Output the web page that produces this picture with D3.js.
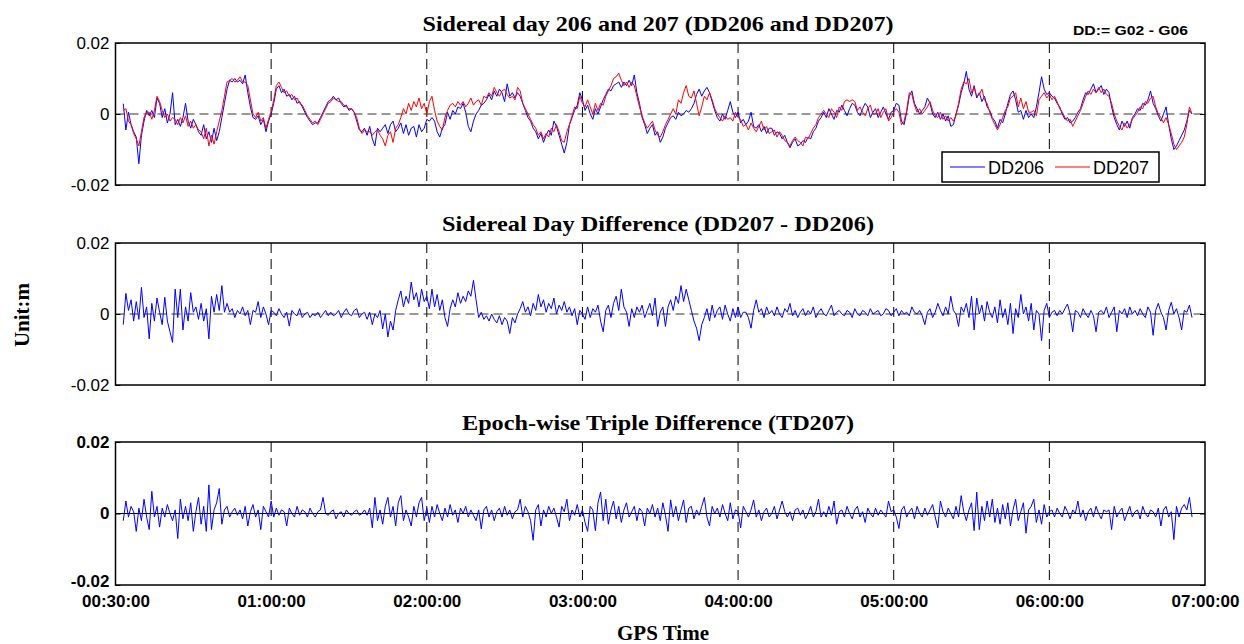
<!DOCTYPE html>
<html>
<head>
<meta charset="utf-8">
<script src="https://cdn.jsdelivr.net/npm/d3@7/dist/d3.min.js"></script>
<style>
  body { margin: 0; background: #fff; }
</style>
</head>
<body>
<svg id="chart" width="1244" height="644"></svg>
<script>
// time axis: one value per minute, first epoch ~3 min after the left edge
const startHour = 0.05, stepHour = 1 / 60;
const tickHours = [0, 1, 2, 3, 4, 5, 6, 7];
const tickLabels = ["00:30:00", "01:00:00", "02:00:00", "03:00:00", "04:00:00", "05:00:00", "06:00:00", "07:00:00"];
const yTicks = [-0.02, 0, 0.02];
const yTickLabels = ["-0.02", "0", "0.02"];

// values in mm
const dd206 = [
  2.9, -4.5, 0.5, -3, -5, -6.5, -14, -6, -2, 1,
  -0.5, 1, -1, 4.5, 3, -1, 1.5, -2.5, 0, 6,
  -3, -1.5, -3.5, -1, 3, -2, -4, -1.5, -3, -5,
  -6, -3, -7, -5, -8, -4, -7.5, -5, -1, 3,
  7, 9.5, 9, 10, 9, 9.5, 8.5, 11, 6, 2,
  -1, -1.5, -0.5, -3, -1.5, -5, -2, 0, 3, 7,
  8, 6, 7, 5, 5.5, 4, 5, 3, 3.5, 2,
  0.5, -1, -2, -3, -2.5, -2.5, -1, 0.5, 2, 3.5,
  4, 5, 4, 4.5, 3, 2, 2.5, 1, 1.5, 0.5,
  -2, -4.5, -5, -4, -6, -3.5, -7, -9, -4, -5,
  -4, -3, -5.5, -3, -2, -5, -4, -2.5, -5.5, -3,
  -6, -4, -3.5, -6.5, -3, -5, -4, -1.5, -2, -1,
  -2, -5, -6.5, -4, -3, 0.5, -1.5, 1, 0, 2,
  1.5, 3, 0.5, -3.5, -5, -2, 0, 1, 2.5, 3,
  4, 5.5, 4, 6.5, 5, 7, 6, 3.5, 8.5, 5,
  6, 4.5, 6, 5, 3, 1, -1, -2, -4, -5,
  -7, -5.5, -8, -6, -4.5, -6, -2, -3.5, -6, -8.5,
  -11, -8, -3, -1, 1, 2.5, 6, 4, 1, 2.5,
  0, -1.5, 1.5, 0, 2, 4, 5.5, 7, 6.5, 8,
  8.5, 9, 7.5, 9, 8, 9.5, 8, 11, 6, 3,
  -1, -3, -5.5, -4, -3, -6, -5, -8, -6.5, -4,
  -2.5, -1, -0.5, -1.5, 0.5, -0.5, 0, 1, 0.5, 1.5,
  3, 5.5, 7, 5, 6.5, 7.5, 6, 3.5, 1, -1,
  -2, 0, -1.5, 1, 3.5, 0.5, -1, 0.5, -2.5, -1.5,
  -3, -2, 0.5, -3.5, -4, -3, -5, -3.5, -5.5, -4,
  -4, -6, -5, -5.5, -7, -6, -8, -9.5, -8, -7,
  -9, -8.5, -7.5, -8, -6.5, -7, -5, -4, -2, -1,
  0.5, -1, 1.5, 0, -1.5, 1, 0.5, 2.5, 1, -0.5,
  1.5, 3, 2.5, 0.5, -0.5, 1.5, 3, 2, -1, 0.5,
  1.5, -1, 0.5, 2, 0, -1.5, 0.5, 1, 3, 2.5,
  -2, -3, 0.5, 5, 6.5, 3, 1.5, 0, 1, 2,
  4.5, 3, 0, -1, 0.5, -1.5, 0, -2, -0.5, -3.5,
  -3, 0, 2.5, 6, 8.5, 12, 7, 5, 8, 4.5,
  6, 3.5, 5, 2, 1, -1, -2, -4, -1.5, -2.5,
  0, 3, 5.5, 6.5, 4, 0.5, 1, -1.5, 1, -1,
  0, -1, 2, 6, 10.5, 7, 5.5, 6, 5, 4.5,
  3, 2, 0, -1.5, -1, -2.5, -2, -1, 0.5, 1.5,
  4, 6, 5.5, 7, 8.5, 6, 7, 8, 5.5, 7,
  6, 2, -1, -3, -4.5, -2, -3.5, -2, -4, -1,
  0, 1.5, 1, 3, 2.5, 4, 6.5, 3, 1.5, -0.5,
  -2, 0, 2, -3, -7, -10, -9, -7.5, -6, -4.5,
  -2, 1, 0
];

const dd207 = [
  1, 1.5, -2, -3, -5.5, -7, -9, -5, -1, 0.5,
  0.5, -1.5, 1, 5, 3.5, 1, -1, 0, -2, -1,
  -1.5, -3, -1, -2.5, -0.5, -3.5, -2, -4, -3, -4.5,
  -5, -7, -4, -9, -6, -8.5, -5, -2, 1, 5,
  9, 9.5, 10, 9, 9.5, 10.5, 9, 9, 8, 4,
  0, -1, 0.5, -2, -1, -4, -1.5, 0.5, 4, 8,
  9, 7.5, 6, 6.5, 5, 5.5, 4, 4.5, 3, 2.5,
  1, -0.5, -1.5, -2.5, -2, -3, -1.5, 0, 1.5, 3,
  3.5, 4.5, 4, 3.5, 3.5, 2.5, 2, 1.5, 1.5, 0.5,
  -1, -4, -5.5, -4.5, -5, -5, -6, -5, -4.5, -6,
  -7, -9, -6, -5, -8, -4, -3, -1, 1.5, 0,
  3, 1, 3.5, 2, 4.5, 1.5, 3, 0, 3.5, 5,
  1, -2, -3.5, -4.5, -1, 1, 2.5, 3, 2, 3.5,
  2.5, 3.5, 2, 3, 4.5, 2.5, 3.5, 4, 2.5, 5,
  4.5, 6, 5, 7.5, 6, 5, 6.5, 7, 5.5, 4.5,
  5, 4, 7.5, 6.5, 3, 1.5, 0, -1.5, -3, -4,
  -6, -5, -7, -5.5, -6.5, -4, -5, -3, -5, -7.5,
  -8, -5, -3, -0.5, 2, 1.5, 5, 3, 2, 4,
  2, 0, 3, 1, 3, 2.5, 5, 6.5, 8, 10,
  10.5, 11.5, 9.5, 8, 9, 7.5, 9, 8, 5, 2,
  -0.5, -2.5, -4, -3, -2, -4.5, -6, -6.5, -5, -3,
  -1.5, 0, 1.5, 0, 4, 3, 6, 8, 5, 4.5,
  6.5, 3, -0.5, 2, 5, 4, 6, 4, 1.5, 0,
  -1, -2, -0.5, -1.5, -1, -2, 0.5, -1, -1.5, -3.5,
  -3, -4.5, -2.5, -4, -5, -3.5, -2, -4.5, -3.5, -5.5,
  -5, -4.5, -6.5, -5, -6, -7.5, -8, -9, -7.5, -6.5,
  -7.5, -8, -9, -6.5, -7, -5.5, -4, -3, -1, 0,
  1, 0, -1, 1.5, 0.5, -1, 2, 1, 3.5, 4,
  3.5, 4, 3.5, 1, 2, 0.5, -0.5, 1.5, 2.5, 0,
  0, 1.5, -1, 0.5, 1.5, -2, -1, 0.5, 1.5, 0.5,
  -3, -2, 1, 6, 5.5, 2.5, 0.5, 1.5, 0, 1,
  2, 3.5, 1, -0.5, -1, 0.5, -1.5, -0.5, -2, -1,
  -2, -0.5, 3, 7, 9, 8.5, 10, 6, 7.5, 5,
  5.5, 7, 4, 3, 0.5, -1.5, -3, -4.5, -3, -1,
  1, 2, 4.5, 5, 6, 2, 4.5, 1.5, 3.5, 0.5,
  0.5, 1, -0.5, 4, 5, 6, 4.5, 5.5, 4, 5,
  3.5, 1.5, 0.5, -1, -2, -1.5, -3.5, -2, -0.5, 1,
  3, 5, 6.5, 5.5, 7, 6, 7.5, 6, 7, 5.5,
  5, 3, 0, -2, -3.5, -4.5, -2.5, -4, -3, -1.5,
  -0.5, 0.5, 2, 1.5, 3.5, 3, 4.5, 5, 2, 0,
  -1, -2.5, -1, -3, -5.5, -8.5, -10, -9, -8, -6.5,
  -3, 2, 0
];

const sdd = [
  -3, 5.8, 1, 4, -2, 3.5, -1.5, 7.5, -1, 2,
  -7, 3, -2, 4.5, 0.5, -3, 4.7, -2, -5, -8,
  7, -1, 7, -4.5, 2, -2, 6, 0.5, 2, -1.5,
  3, -2, 1.5, -7, 5, 0.5, 5.5, 1, 8, 0.5,
  3, 0.5, 1.5, -1, 1, 0, 2, -0.5, 1, -3,
  1, 0.5, 3.5, -1, 2, 0, -3, 1, 0.5, -0.5,
  1.5, 0, -1, 0.5, -3.4, 1, 0, -0.5, 1.5, -1,
  0, 0.5, -1, 0, -0.5, 0.5, -1, 0, 1, -0.5,
  0.5, -0.5, 0, 1, -1, 0.5, 1.5, 0, -0.5, 1,
  1.5, -1, 0, 0.5, -1.5, 0.5, -3, 0, -1, 1,
  -4.2, 0, -6.5, -2, -4.5, 1, 4, 6.5, 2, 5,
  3, 9, 4, 6, 2, 7, 3.5, 5, 1.5, 7,
  2, 5.5, 1, 4, -1, -3.5, 1.5, 4, 2, 6,
  3, 5, 3.5, 6.5, 5, 9.5, 4, -1, 0.5, -1.5,
  -0.5, -2, 0, -1.5, -2.5, -0.5, -3, -1, -2, -5.5,
  -1, -2.5, 0, 1.5, 3.5, 0.5, 2, -0.5, 3, 1,
  5.5, 2, 4, 0.5, 3, 1.5, 4.5, 0, 2.5, 1,
  3.5, 0.5, 2, -0.5, 1.5, -3, 1, 0, -1.5, 2,
  -1, 1.5, 0.5, 2.5, -2, -5, 1, 2.5, -1, 3,
  5, 1, 7, 2, 0.5, -3.5, 1.5, -1, 2, 0.5,
  2.5, -1, 1, 3, -0.5, 4.5, -3.5, 0.5, 2, -3.5,
  2, 4, 1, 5, 3, 8, 3.5, 7, 4, 1,
  -2, -4, -7.5, -3, -1, 1.5, -2, 2.5, -1, 1,
  2, -1.5, 2.5, 0, -2, 1.5, -1, 2, -1, 0.5,
  0.5, -1, -4, 1, 4, 0.5, 1.5, -1, 2, 0,
  1, -0.5, 2, 0, -1, 1.5, 0.5, 3, -0.5, 1,
  -1, 0.5, 1.5, -0.5, 1, 0, 2, -1, 0.5, 1.5,
  0, -0.5, 1, 2.5, -0.5, 0.5, 1, 0, -0.5, 1,
  0.5, -1, 1.5, 0, -0.5, 1, 0.5, -0.5, 1.5, 0,
  0.5, 1, -0.5, 0, 1.5, 1, -0.5, 0.5, 1.5, -0.5,
  1, 0, 0.5, -0.5, 2, 0.5, 0, 1, -0.5, -3,
  0.5, 1.5, -1, 0.5, 3, 1, -0.5, 2, 0, 5,
  1, 0, -3.5, 2, 0.5, 3, -1, 5, -4.5, 4.5,
  0, 2.5, -2, 3.5, 0.5, -1, 2, -2.5, 4, -1,
  1.5, -3, 3, -5.5, 1.5, -1, 5.5, 0, 2, -2,
  3, -4.5, 1, 0, -7.5, 1, 3, -1, 0.5, 1,
  -0.5, 1, 0, 1.5, 2.8, 0, -5, 1, 0.5, -1,
  1.5, 0, -1, 1, -0.5, -5, 0.5, 1, 0, 2,
  -1, 0.5, 2, -5, 1, 0, 1.5, -1, 2, 0,
  1, -0.5, 1.5, 0, -1, 2, 0.5, -6, 1, 3,
  0.5, -1, -4.5, 1, 3.3, 0, 1.5, -1, -4.5, 1,
  0.5, 2.5, -1
];

const td207 = [
  -2, 3.5, -1, 2, 0.5, -5, 1.5, -2, 4, -1,
  -4.5, 6.2, -1, 2, -3.8, 1.5, -1, 2.5, 0, -2,
  1, -7, 4, -1.5, 2, -2, 3, -5, 0.5, 4.5,
  -3, 2, -5, 8, -4.5, 1, 3, 7, -3, 1,
  2, -1, 0.5, 1.5, -0.5, 1, -1.5, 2, -3.5, 0.5,
  2.5, -1, 1, -4.5, 2, 0.5, -1, 3.5, -1, 1.5,
  -0.5, 1, 0.5, -3.5, 1.5, 0, -1, 2, -0.5, 1,
  0.5, -1, 1.5, 0, -1, 0.5, 1, 4.5, 0, -0.5,
  0.5, 1, -1.5, 0, 0.5, -1, 1, 0, -0.5, 0.5,
  1, -0.5, 0, 1, -0.5, 1.5, -4, 4.5, -2, 1,
  -3, 2, 4.5, -1, 2, -3.5, 3, 5, -2, 1,
  -1, -3.5, 2, -1, 3, 4.5, -2, 1.5, -2.5, 2,
  -1, 2.5, 0, -2, 1.5, -1, 2.5, -0.5, 1, -2.5,
  1.5, 0, 2, -1, 1, -0.5, -2, 1, -4.3, 1,
  2, -1, 1, -2, 0.5, 1.5, -1, 2, -0.5, 1,
  -1.5, 0.5, 1, 4, -1, 2, 0.5, -2, -7.5, 1,
  2.5, -3.5, 1, -1, 2, 0, 1.5, -1, -3.8, 2,
  0.5, 4, -2, 1, -0.5, 2.5, -1, 1, -2.5, -5,
  2, 1, -4.8, 3, 6, -2, 4, -3, 1, 3.5,
  -1.5, 2, -2.5, 1, 3, -1, 0.5, 2, -2, 1.5,
  0.5, -3.5, 1.5, 0, 2.5, -1, 1.5, -2, 3, -0.5,
  -5, 3.8, -1, 2, -2, 1, 3.8, -2.5, 1.5, 2,
  -1.5, 1, -0.5, 2, 4.5, -1, -3.5, 2, 0, 1.5,
  -1, 2.5, 0, -2, 3, -1.5, 1, 0.5, -4, 2,
  0.5, -1, 1, 3.8, -1, 1, -2, 0.5, 1.5, -1,
  0, 2, -1.5, 1, 3.5, 0.5, -1, 0.5, -2, 1,
  1.5, -0.5, 1, -1.5, 0, 2, -1, 0.5, 4, -1,
  0.5, -1, 2, -0.5, 3.5, -3, 0.5, 1, -1, 2,
  0, -1.5, 1, 2, -1, 0.5, -2.5, 1.5, 0, -1,
  1.5, -0.5, 1, 0, -1, 3.5, 0.5, 1, -1, -4.2,
  1, 2, -1, 0.5, 1.5, -1.5, 2, 0, -1, 1.5,
  -0.5, 1, 2.5, -1, -4, 3.5, 0.5, -1, 1.5, 0,
  -1.5, 2, -1, 5, 0.5, -2, 1, 3, -4.8, 6,
  -4.5, 2, -2, 3.5, -1, 4, -2.5, 1.5, -3, 2.5,
  -1.5, 3, -3.5, 1, 4, -2, 0.5, 3, -5.5, 1,
  2, 4, -2.5, 1, -3, 2.5, -1, 0.5, 1, -1,
  1.5, 0, -1, 2, 0.5, -1.5, 1, 0, 3.5, -1,
  1, -2, 0.5, 1.5, -1, 2, 0, -1.5, 1, 0.5,
  1, -4.5, 2, -1, 0.5, 1.5, -2, 0, 2, -1,
  0.5, 1, -1.5, 2, 0, -1, 1, 0.5, -1, 1.5,
  -3.5, 1, 2, -1, 0.5, -7.3, 2, -1, 1.5, 2.5,
  1, 4.5, -1
];

const svg = d3.select("#chart");
const left = 115.5, right = 1205;
const x = d3.scaleLinear().domain([0, 7]).range([left, right]);

function toPoints(arr) {
  return arr.map((v, i) => [startHour + i * stepHour, v / 1000]);
}

function drawPanel(p) {
  const y = d3.scaleLinear().domain([-0.02, 0.02]).range([p.bottom, p.top]);
  const g = svg.append("g");

  // hourly dashed grid
  g.selectAll(".vgrid").data(tickHours.slice(1, -1)).enter().append("line")
    .attr("x1", d => x(d)).attr("x2", d => x(d))
    .attr("y1", p.top).attr("y2", p.bottom)
    .attr("stroke", "#000").attr("stroke-width", 1)
    .attr("stroke-dasharray", "10,6");

  // zero line
  g.append("line")
    .attr("x1", left).attr("x2", right)
    .attr("y1", y(0)).attr("y2", y(0))
    .attr("stroke", p.zeroSolid ? "#000" : "#333").attr("stroke-width", 1)
    .attr("stroke-dasharray", p.zeroSolid ? null : "9,5");

  const line = d3.line().x(d => x(d[0])).y(d => y(d[1]));
  p.series.forEach(s => {
    g.append("path")
      .datum(toPoints(s.values))
      .attr("fill", "none")
      .attr("stroke", s.color)
      .attr("stroke-width", 1)
      .attr("stroke-linejoin", "round")
      .attr("d", line);
  });

  // frame
  g.append("rect")
    .attr("x", left).attr("y", p.top)
    .attr("width", right - left).attr("height", p.bottom - p.top)
    .attr("fill", "none").attr("stroke", "#000").attr("stroke-width", 1.5);

  // y axis
  const ya = g.append("g")
    .attr("transform", `translate(${left},0)`)
    .call(d3.axisLeft(y).tickValues(yTicks).tickSize(-5).tickPadding(6)
      .tickFormat((d, i) => yTickLabels[i]));
  ya.select(".domain").remove();
  ya.selectAll("text")
    .attr("font-family", "Liberation Sans, Arial, sans-serif")
    .attr("font-size", 17)
    .attr("font-weight", p.boldTicks ? "bold" : "normal")
    .attr("fill", "#000");
  if (p.boldTicks) {
    // lift the lowest label a touch so it clears the time labels
    ya.selectAll(".tick").filter(d => d === -0.02).select("text").attr("dy", "0.1em");
  }
  const yr = g.append("g")
    .attr("transform", `translate(${right},0)`)
    .call(d3.axisRight(y).tickValues(yTicks).tickSize(-5).tickFormat(""));
  yr.select(".domain").remove();

  // title
  g.append("text")
    .attr("x", 658).attr("y", p.top - 12)
    .attr("text-anchor", "middle")
    .attr("font-family", "Liberation Serif, Times New Roman, serif")
    .attr("font-weight", "bold")
    .attr("font-size", 21)
    .attr("textLength", p.titleWidth)
    .attr("lengthAdjust", "spacingAndGlyphs")
    .text(p.title);

  return y;
}

drawPanel({
  top: 43, bottom: 185,
  title: "Sidereal day 206 and 207 (DD206 and DD207)", titleWidth: 471,
  series: [{ values: dd206, color: "#0000ff" }, { values: dd207, color: "#ff0000" }]
});
drawPanel({
  top: 243, bottom: 385,
  title: "Sidereal Day Difference (DD207 - DD206)", titleWidth: 432,
  series: [{ values: sdd, color: "#0000ff" }]
});
drawPanel({
  top: 442, bottom: 585, zeroSolid: true, boldTicks: true,
  title: "Epoch-wise Triple Difference (TD207)", titleWidth: 392,
  series: [{ values: td207, color: "#0000ff" }]
});

// x axis labels on bottom panel only
const xa = svg.append("g")
  .attr("transform", "translate(0,585)")
  .call(d3.axisBottom(x).tickValues(tickHours).tickSize(0).tickPadding(10)
    .tickFormat((d, i) => tickLabels[i]));
xa.select(".domain").remove();
xa.selectAll("text")
  .attr("font-family", "Liberation Sans, Arial, sans-serif")
  .attr("font-size", 17)
  .attr("font-weight", "bold")
  .attr("fill", "#000");

// DD definition note
svg.append("text")
  .attr("x", 1073).attr("y", 35)
  .attr("font-family", "Liberation Sans, Arial, sans-serif")
  .attr("font-weight", "bold")
  .attr("font-size", 13)
  .attr("textLength", 115)
  .attr("lengthAdjust", "spacingAndGlyphs")
  .text("DD:= G02 - G06");

// legend
const lg = svg.append("g");
lg.append("rect")
  .attr("x", 942).attr("y", 152).attr("width", 217).attr("height", 30)
  .attr("fill", "#fff").attr("stroke", "#000").attr("stroke-width", 1.5);
const legendItems = [
  { label: "DD206", color: "#0000ff", x0: 950 },
  { label: "DD207", color: "#ff0000", x0: 1055 }
];
legendItems.forEach(it => {
  lg.append("line")
    .attr("x1", it.x0).attr("x2", it.x0 + 35)
    .attr("y1", 167).attr("y2", 167)
    .attr("stroke", it.color).attr("stroke-width", 1);
  lg.append("text")
    .attr("x", it.x0 + 38).attr("y", 173.5)
    .attr("font-family", "Liberation Sans, Arial, sans-serif")
    .attr("font-size", 18)
    .text(it.label);
});

// axis titles
svg.append("text")
  .attr("transform", "translate(29,315) rotate(-90)")
  .attr("text-anchor", "middle")
  .attr("font-family", "Liberation Serif, Times New Roman, serif")
  .attr("font-weight", "bold")
  .attr("font-size", 21)
  .text("Unit:m");
svg.append("text")
  .attr("x", 663).attr("y", 640)
  .attr("text-anchor", "middle")
  .attr("font-family", "Liberation Serif, Times New Roman, serif")
  .attr("font-weight", "bold")
  .attr("font-size", 21)
  .text("GPS Time");
</script>
</body>
</html>
